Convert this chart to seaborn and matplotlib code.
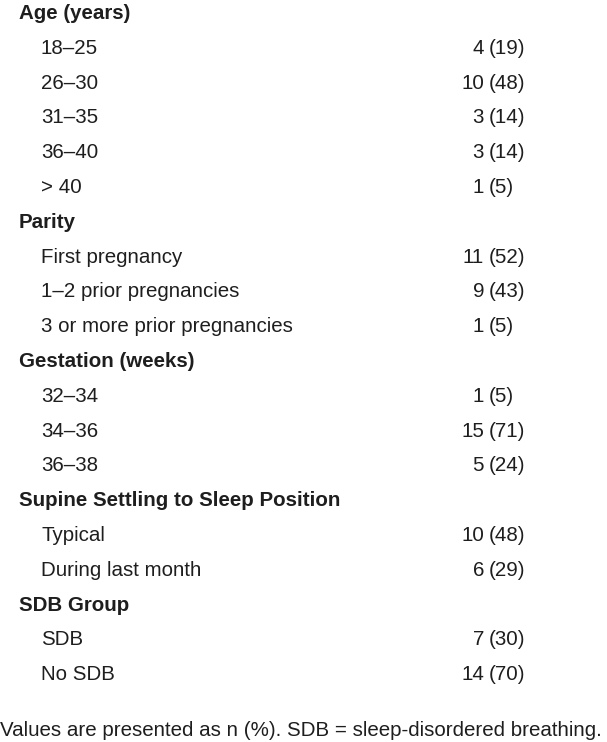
import matplotlib
matplotlib.use("Agg")
import matplotlib.pyplot as plt
import seaborn as sns
import pandas as pd

# ---- data ----
groups = ["Age (years)", "Parity", "Gestation (weeks)",
          "Supine Settling to Sleep Position", "SDB Group"]
age_labels = ["18\u201325", "26\u201330", "31\u201335", "36\u201340", "> 40"]
age_n = [4, 10, 3, 3, 1]
age_pct = [19, 48, 14, 14, 5]
parity_labels = ["First pregnancy", "1\u20132 prior pregnancies", "3 or more prior pregnancies"]
parity_n = [11, 9, 1]
parity_pct = [52, 43, 5]
gest_labels = ["32\u201334", "34\u201336", "36\u201338"]
gest_n = [1, 15, 5]
gest_pct = [5, 71, 24]
supine_labels = ["Typical", "During last month"]
supine_n = [10, 6]
supine_pct = [48, 29]
sdb_labels = ["SDB", "No SDB"]
sdb_n = [7, 14]
sdb_pct = [30, 70]
footnote = "Values are presented as n (%). SDB = sleep-disordered breathing."

sections = [
    (groups[0], age_labels, age_n, age_pct),
    (groups[1], parity_labels, parity_n, parity_pct),
    (groups[2], gest_labels, gest_n, gest_pct),
    (groups[3], supine_labels, supine_n, supine_pct),
    (groups[4], sdb_labels, sdb_n, sdb_pct),
]

rows = []
for g, labs, ns, ps in sections:
    rows.append(dict(label=g, n=None, pct=None, header=True))
    for l, n, p in zip(labs, ns, ps):
        rows.append(dict(label=l, n=n, pct=p, header=False))
df = pd.DataFrame(rows)
df["row"] = range(len(df))

# ---- drawing ----
sns.set_theme(style="white")
plt.rcParams["font.family"] = ["Liberation Sans Narrow", "Liberation Sans", "DejaVu Sans"]

W, H = 607, 742
fig = plt.figure(figsize=(W / 100, H / 100), dpi=100)
ax = fig.add_axes([0, 0, 1, 1])
ax.set_axis_off()

row_h = 34.8       # pixels per row
base0 = 19.0       # baseline of first row, pixels
ax.set_xlim(0, W)
ax.set_ylim((H - base0) / row_h, -base0 / row_h)

color = "#1e1e1e"
fs = 14.75
x_head, x_item, x_n, x_pct = 19, 41, 484, 489

for _, r in df.iterrows():
    y = r["row"]
    if r["header"]:
        ax.text(x_head, y, r["label"], fontsize=fs, fontweight="bold",
                color=color, ha="left", va="baseline")
    else:
        ax.text(x_item, y, r["label"], fontsize=fs, color=color,
                ha="left", va="baseline")
        ax.text(x_n, y, f"{int(r['n'])}", fontsize=fs, color=color,
                ha="right", va="baseline")
        ax.text(x_pct, y, f"({int(r['pct'])})", fontsize=fs, color=color,
                ha="left", va="baseline")

ax.text(0, (736 - base0) / row_h, footnote, fontsize=fs, color=color,
        ha="left", va="baseline")

fig.savefig("out.png", dpi=100)
